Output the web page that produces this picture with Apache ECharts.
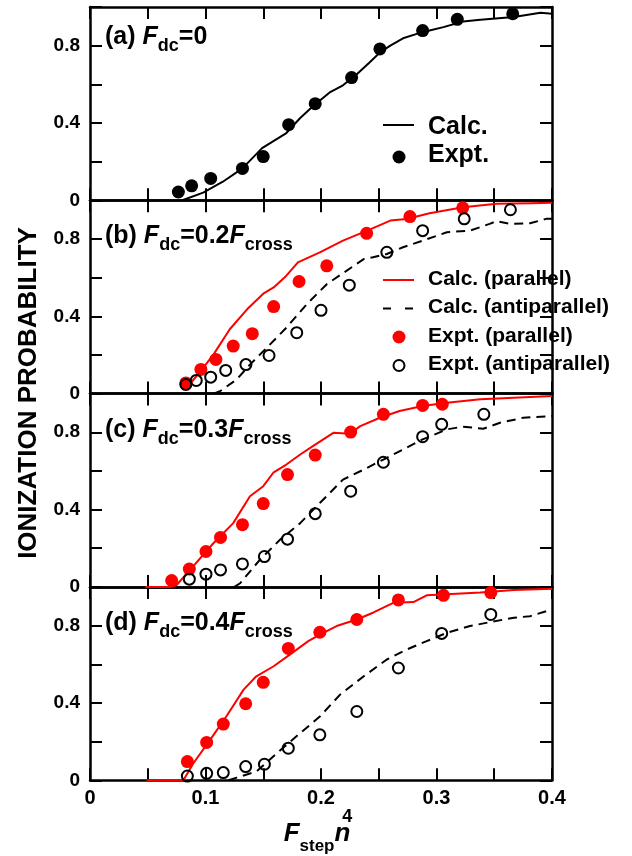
<!DOCTYPE html>
<html>
<head>
<meta charset="utf-8">
<script src="https://cdn.jsdelivr.net/npm/echarts@6/dist/echarts.min.js"></script>
<style>
  html, body { margin: 0; padding: 0; background: #fff; }
  #chart { width: 632px; height: 856px; }
</style>
</head>
<body>
<div id="chart"></div>
<script>
// ---- tick labels ----
const xTickLabels = ['0', '0.1', '0.2', '0.3', '0.4'];
const yTickLabels = ['0', '0.4', '0.8'];

// ---- (a) Fdc = 0 ----
const calcA = [[0.080,0.0],[0.098,0.040],[0.115,0.096],[0.132,0.165],[0.149,0.270],[0.170,0.348],[0.182,0.426],
  [0.193,0.487],[0.208,0.560],[0.219,0.595],[0.231,0.652],[0.242,0.713],[0.251,0.765],[0.260,0.800],[0.271,0.838],
  [0.283,0.861],[0.294,0.878],[0.306,0.896],[0.323,0.925],[0.338,0.934],[0.367,0.948],[0.390,0.970],[0.400,0.965]];
const exptA = [[0.0765,0.043],[0.088,0.075],[0.1045,0.113],[0.132,0.165],[0.150,0.226],[0.172,0.391],[0.195,0.500],
  [0.2265,0.635],[0.251,0.783],[0.288,0.878],[0.318,0.936],[0.366,0.965]];

// ---- (b) Fdc = 0.2 Fcross ----
const calcParB = [[0.080,0.020],[0.088,0.060],[0.098,0.133],[0.107,0.203],[0.121,0.333],[0.136,0.436],[0.150,0.517],
  [0.159,0.549],[0.170,0.610],[0.180,0.679],[0.199,0.731],[0.219,0.791],[0.240,0.843],[0.260,0.895],[0.274,0.903],
  [0.294,0.933],[0.323,0.964],[0.352,0.982],[0.381,0.985],[0.400,0.987]];
const calcAntiB = [[0.107,0.0],[0.1125,0.012],[0.127,0.073],[0.1385,0.150],[0.153,0.237],[0.170,0.341],[0.1876,0.462],
  [0.205,0.566],[0.222,0.635],[0.237,0.696],[0.245,0.705],[0.257,0.722],[0.271,0.757],[0.288,0.791],[0.309,0.835],
  [0.329,0.843],[0.346,0.878],[0.352,0.892],[0.364,0.878],[0.381,0.881],[0.395,0.904],[0.400,0.904]];
const exptParB = [[0.083,0.055],[0.096,0.125],[0.109,0.177],[0.124,0.246],[0.1405,0.310],[0.159,0.450],[0.181,0.580],
  [0.205,0.661],[0.2395,0.829],[0.277,0.916],[0.3227,0.961]];
const exptAntiB = [[0.083,0.047],[0.092,0.068],[0.1045,0.085],[0.1175,0.120],[0.135,0.150],[0.155,0.197],[0.179,0.315],
  [0.200,0.431],[0.2245,0.561],[0.257,0.731],[0.288,0.843],[0.324,0.904],[0.364,0.951]];

// ---- (c) Fdc = 0.3 Fcross ----
const calcParC = [[0.048,0.0],[0.070,0.0],[0.075,0.010],[0.0866,0.088],[0.107,0.227],[0.124,0.330],[0.1385,0.469],
  [0.150,0.521],[0.159,0.593],[0.170,0.633],[0.182,0.685],[0.193,0.728],[0.211,0.798],[0.225,0.792],[0.234,0.832],
  [0.251,0.875],[0.268,0.910],[0.288,0.936],[0.309,0.953],[0.338,0.971],[0.367,0.979],[0.400,0.988]];
const calcAntiC = [[0.125,0.0],[0.130,0.019],[0.147,0.140],[0.1645,0.244],[0.182,0.330],[0.199,0.434],[0.219,0.555],
  [0.237,0.607],[0.254,0.659],[0.271,0.711],[0.288,0.763],[0.309,0.815],[0.323,0.829],[0.3405,0.818],[0.355,0.849],
  [0.375,0.875],[0.400,0.884]];
const exptParC = [[0.0707,0.033],[0.086,0.092],[0.1004,0.183],[0.113,0.256],[0.132,0.322],[0.150,0.431],[0.171,0.581],
  [0.195,0.682],[0.2257,0.801],[0.254,0.893],[0.288,0.939],[0.305,0.945]];
const exptAntiC = [[0.086,0.040],[0.1004,0.066],[0.113,0.088],[0.132,0.119],[0.151,0.157],[0.171,0.247],[0.195,0.379],
  [0.2257,0.495],[0.254,0.645],[0.288,0.777],[0.3045,0.841],[0.341,0.893]];

// ---- (d) Fdc = 0.4 Fcross ----
const calcParD = [[0.049,0.0],[0.081,0.002],[0.0895,0.088],[0.104,0.209],[0.118,0.330],[0.133,0.469],[0.144,0.538],
  [0.159,0.590],[0.173,0.650],[0.189,0.720],[0.199,0.754],[0.2135,0.798],[0.231,0.832],[0.245,0.867],[0.263,0.919],
  [0.280,0.922],[0.2915,0.957],[0.309,0.962],[0.338,0.971],[0.367,0.984],[0.400,0.991]];
const calcAntiD = [[0.120,0.0],[0.127,0.014],[0.144,0.045],[0.165,0.157],[0.182,0.244],[0.199,0.330],[0.2165,0.443],
  [0.237,0.538],[0.257,0.625],[0.274,0.676],[0.2915,0.720],[0.309,0.763],[0.329,0.798],[0.346,0.818],[0.367,0.841],
  [0.381,0.849],[0.400,0.884]];
const exptParD = [[0.0843,0.097],[0.101,0.196],[0.1154,0.291],[0.1348,0.396],[0.150,0.507],[0.1717,0.682],[0.199,0.766],
  [0.231,0.832],[0.267,0.933],[0.306,0.957],[0.347,0.971]];
const exptAntiD = [[0.0843,0.022],[0.101,0.036],[0.1154,0.040],[0.1348,0.071],[0.151,0.083],[0.1717,0.166],[0.199,0.235],
  [0.231,0.356],[0.267,0.581],[0.3045,0.760],[0.347,0.858]];

// ---- layout / style ----
const FAMILY = '"Liberation Sans", Arial, Helvetica, sans-serif';
const RED = '#ff0000';
const BLACK = '#000000';
const gridTops = [7, 200.3, 393.6, 587];
const gridHeight = 193.3;
const tickStyle = { inside: true, length: 12, lineStyle: { color: BLACK, width: 2 } };
const lineAxis = { show: true, onZero: false, lineStyle: { color: BLACK, width: 2.5 } };

const fmt = v => String(Number(v.toFixed(2)));

const grids = [], xAxes = [], yAxes = [];
gridTops.forEach((top, i) => {
  grids.push({ left: 90, right: 80, top: top, height: gridHeight, containLabel: false, outerBoundsMode: 'none' });
  const xBase = {
    gridIndex: i, type: 'value', min: 0, max: 0.4, interval: 0.1,
    axisLine: lineAxis, axisTick: tickStyle,
    minorTick: { show: true, splitNumber: 2, length: 12, lineStyle: { color: BLACK, width: 2 } },
    splitLine: { show: false }, minorSplitLine: { show: false }
  };
  xAxes.push(Object.assign({}, xBase, {
    position: 'bottom',
    axisLabel: {
      show: i === gridTops.length - 1, margin: 8, color: BLACK, fontFamily: FAMILY, fontWeight: 'bold', fontSize: 20,
      formatter: v => (xTickLabels.indexOf(fmt(v)) >= 0 ? fmt(v) : '')
    }
  }));
  xAxes.push(Object.assign({}, xBase, { position: 'top', axisLabel: { show: false } }));
  const yBase = {
    gridIndex: i, type: 'value', min: 0, max: 1, interval: 0.2,
    axisLine: lineAxis, axisTick: tickStyle, splitLine: { show: false }
  };
  yAxes.push(Object.assign({}, yBase, {
    position: 'left',
    axisLabel: {
      show: true, margin: 10, color: BLACK, fontFamily: FAMILY, fontWeight: 'bold', fontSize: 19,
      formatter: v => (yTickLabels.indexOf(fmt(v)) >= 0 ? fmt(v) : '')
    }
  }));
  yAxes.push(Object.assign({}, yBase, { position: 'right', axisLabel: { show: false } }));
});

function calcLine(name, panel, data, color, dashed) {
  return {
    name: name, type: 'line', xAxisIndex: panel * 2, yAxisIndex: panel * 2, data: data,
    symbol: 'none', smooth: false, z: 2, animation: false,
    lineStyle: { color: color, width: 2, opacity: 1, type: dashed ? [9, 6] : 'solid' }
  };
}
function exptPoints(name, panel, data, color, open) {
  return {
    name: name, type: 'scatter', xAxisIndex: panel * 2, yAxisIndex: panel * 2, data: data,
    symbol: 'circle', symbolSize: open ? 11 : 13, z: 3, animation: false,
    itemStyle: open
      ? { color: 'rgba(0,0,0,0)', borderColor: BLACK, borderWidth: 2, opacity: 1 }
      : { color: color, borderWidth: 0, opacity: 1 }
  };
}

const series = [
  calcLine('Calc.', 0, calcA, BLACK, false),
  exptPoints('Expt.', 0, exptA, BLACK, false),
  calcLine('Calc. (parallel)', 1, calcParB, RED, false),
  calcLine('Calc. (antiparallel)', 1, calcAntiB, BLACK, true),
  exptPoints('Expt. (parallel)', 1, exptParB, RED, false),
  exptPoints('Expt. (antiparallel)', 1, exptAntiB, BLACK, true),
  calcLine('Calc. (parallel)', 2, calcParC, RED, false),
  calcLine('Calc. (antiparallel)', 2, calcAntiC, BLACK, true),
  exptPoints('Expt. (parallel)', 2, exptParC, RED, false),
  exptPoints('Expt. (antiparallel)', 2, exptAntiC, BLACK, true),
  calcLine('Calc. (parallel)', 3, calcParD, RED, false),
  calcLine('Calc. (antiparallel)', 3, calcAntiD, BLACK, true),
  exptPoints('Expt. (parallel)', 3, exptParD, RED, false),
  exptPoints('Expt. (antiparallel)', 3, exptAntiD, BLACK, true)
];

// ---- annotation text laid out piece by piece (sub/superscripts) ----
const measure = document.createElement('canvas').getContext('2d');
function font(size, italic) { return (italic ? 'italic ' : '') + 'bold ' + size + 'px ' + FAMILY; }
function textRun(x0, baseline, pieces) {
  const out = [];
  let x = x0;
  pieces.forEach(p => {
    const f = font(p.size, p.italic);
    measure.font = f;
    x += (p.dx || 0);
    out.push({
      type: 'text', x: x, y: baseline + (p.dy || 0) - 0.35 * p.size, z: 10,
      style: { text: p.t, font: f, fill: BLACK, align: 'left', verticalAlign: 'middle',
               textAlign: 'left', textVerticalAlign: 'middle' }
    });
    x += measure.measureText(p.t).width;
  });
  return out;
}
function textWidth(pieces) {
  let w = 0;
  pieces.forEach(p => { measure.font = font(p.size, p.italic); w += measure.measureText(p.t).width + (p.dx || 0); });
  return w;
}
function panelLabel(tag, value, cross, baseline) {
  const pieces = [
    { t: '(' + tag + ') ', size: 25 },
    { t: 'F', size: 25, italic: true },
    { t: 'dc', size: 18, dy: 6, dx: 0 },
    { t: '=' + value, size: 25 }
  ];
  if (cross) {
    pieces.push({ t: 'F', size: 25, italic: true });
    pieces.push({ t: 'cross', size: 18, dy: 6 });
  }
  return textRun(105, baseline, pieces);
}

const graphics = [];
graphics.push(...panelLabel('a', '0', false, 46));
graphics.push(...panelLabel('b', '0.2', true, 245));
graphics.push(...panelLabel('c', '0.3', true, 439));
graphics.push(...panelLabel('d', '0.4', true, 632));

// x-axis title: F_step n^4
const xTitle = [
  { t: 'F', size: 26, italic: true },
  { t: 'step', size: 17, dy: 9 },
  { t: 'n', size: 26, italic: true },
  { t: '4', size: 18, dy: -20, dx: -8 }
];
graphics.push(...textRun(318 - textWidth(xTitle) / 2, 843, xTitle));

// y-axis title
graphics.push({
  type: 'text', x: 29, y: 393, rotation: Math.PI / 2, z: 10,
  style: { text: 'IONIZATION PROBABILITY', font: font(26, false), fill: BLACK,
           align: 'center', verticalAlign: 'middle', textAlign: 'center', textVerticalAlign: 'middle' }
});

// key for panel (a)
const keyTextA = (txt, y) => ({
  type: 'text', x: 428, y: y, z: 10,
  style: { text: txt, font: font(25, false), fill: BLACK, align: 'left', verticalAlign: 'middle',
           textAlign: 'left', textVerticalAlign: 'middle' }
});
graphics.push({ type: 'line', z: 10, shape: { x1: 383, y1: 125, x2: 414, y2: 125 }, style: { stroke: BLACK, lineWidth: 2 } });
graphics.push(keyTextA('Calc.', 127));
graphics.push({ type: 'circle', z: 10, shape: { cx: 399, cy: 157, r: 6.5 }, style: { fill: BLACK } });
graphics.push(keyTextA('Expt.', 155));

// key for panel (b)
const keyTextB = (txt, y) => ({
  type: 'text', x: 428, y: y, z: 10,
  style: { text: txt, font: font(21, false), fill: BLACK, align: 'left', verticalAlign: 'middle',
           textAlign: 'left', textVerticalAlign: 'middle' }
});
graphics.push({ type: 'line', z: 10, shape: { x1: 383, y1: 280, x2: 414, y2: 280 }, style: { stroke: RED, lineWidth: 2 } });
graphics.push(keyTextB('Calc. (parallel)', 279));
graphics.push({ type: 'line', z: 10, shape: { x1: 383, y1: 308.5, x2: 414, y2: 308.5 },
                style: { stroke: BLACK, lineWidth: 2, lineDash: [8, 14] } });
graphics.push(keyTextB('Calc. (antiparallel)', 307.5));
graphics.push({ type: 'circle', z: 10, shape: { cx: 399, cy: 337, r: 6.5 }, style: { fill: RED } });
graphics.push(keyTextB('Expt. (parallel)', 336));
graphics.push({ type: 'circle', z: 10, shape: { cx: 399, cy: 365.5, r: 5.5 },
                style: { fill: 'none', stroke: BLACK, lineWidth: 2 } });
graphics.push(keyTextB('Expt. (antiparallel)', 364.5));

const chart = echarts.init(document.getElementById('chart'), null, { renderer: 'canvas' });
chart.setOption({
  backgroundColor: '#ffffff',
  animation: false,
  grid: grids,
  xAxis: xAxes,
  yAxis: yAxes,
  series: series,
  graphic: { elements: graphics }
});
</script>
</body>
</html>
